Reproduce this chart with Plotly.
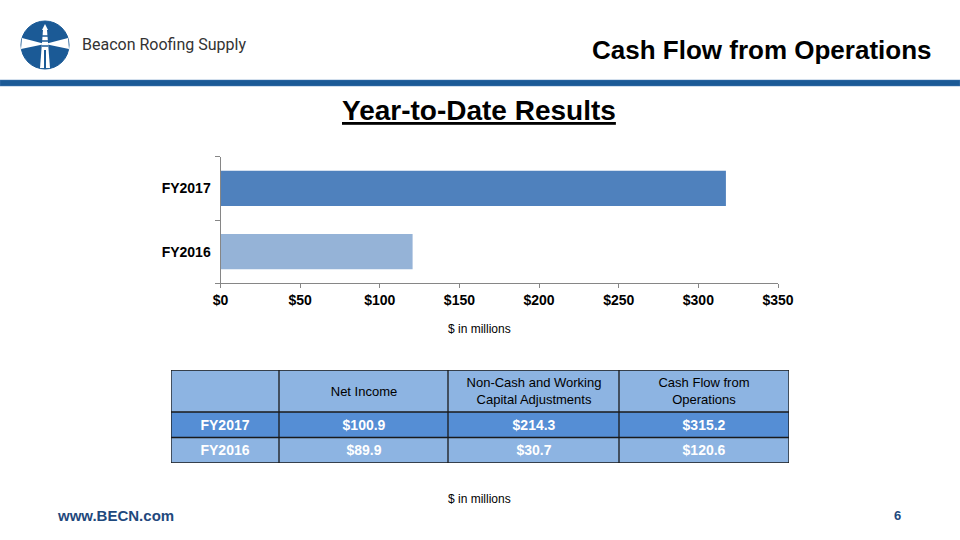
import plotly.graph_objects as go

# ---- data ----
years = ["FY2016", "FY2017"]
cfo_values = [120.6, 317.3]          # bar lengths as drawn in the chart
bar_colors = ["#95B3D7", "#4F81BD"]
x_ticks = [0, 50, 100, 150, 200, 250, 300, 350]
x_tick_labels = ["$0", "$50", "$100", "$150", "$200", "$250", "$300", "$350"]

table_columns = ["", "Net Income", "Non-Cash and Working<br>Capital Adjustments", "Cash Flow from<br>Operations"]
table_rows = ["FY2017", "FY2016"]
net_income = ["$100.9", "$89.9"]
noncash_adj = ["$214.3", "$30.7"]
cash_flow_ops = ["$315.2", "$120.6"]

# ---- layout constants (pixels) ----
W, H = 960, 540
def px(x): return x / W
def py(y): return 1 - y / H

col_edges = [0, 108, 277, 448, 618]      # table column boundaries
head_edges = [0, 42]                     # header row
body_edges = [42, 67.5, 93]              # body rows
TBL_X0, TBL_X1, TBL_Y0, TBL_Y1 = 171, 789, 370, 463

fig = go.Figure()
fig.add_trace(go.Bar(
    y=years, x=cfo_values, orientation="h",
    marker=dict(color=bar_colors, line=dict(width=0)),
    hoverinfo="skip", showlegend=False,
))

# table header
fig.add_trace(go.Heatmap(
    x=col_edges, y=head_edges, z=[[0] * 4],
    text=[table_columns], texttemplate="%{text}",
    textfont=dict(family="Liberation Sans, Arial", size=13, color="#000000"),
    colorscale=[[0, "#8DB4E2"], [1, "#8DB4E2"]], zmin=0, zmax=1, showscale=False,
    hoverinfo="skip", xaxis="x2", yaxis="y2",
))
# table body
body_text = [[f"<b>{v}</b>" for v in row] for row in zip(table_rows, net_income, noncash_adj, cash_flow_ops)]
fig.add_trace(go.Heatmap(
    x=col_edges, y=body_edges, z=[[1] * 4, [0] * 4],
    text=body_text, texttemplate="%{text}",
    textfont=dict(family="Liberation Sans, Arial", size=14, color="#FFFFFF"),
    colorscale=[[0, "#8DB4E2"], [1, "#558ED5"]], zmin=0, zmax=1, showscale=False,
    hoverinfo="skip", xaxis="x2", yaxis="y2",
))

shapes = []
# table grid
all_rows = head_edges + body_edges[1:]
for e in col_edges:
    shapes.append(dict(type="line", xref="x2", yref="y2", x0=e, x1=e, y0=all_rows[0], y1=all_rows[-1],
                       line=dict(color="#1A1A1A", width=1.3)))
for e in all_rows:
    shapes.append(dict(type="line", xref="x2", yref="y2", x0=col_edges[0], x1=col_edges[-1], y0=e, y1=e,
                       line=dict(color="#1A1A1A", width=1.3)))

# blue header rule
shapes.append(dict(type="rect", xref="paper", yref="paper", x0=0, x1=1, y0=py(86), y1=py(80),
                   fillcolor="#1B5A96", line=dict(width=0.5, color="#4A7FB5")))
# logo
shapes.append(dict(type="circle", xref="paper", yref="paper", x0=px(21), x1=px(69), y0=py(69), y1=py(21),
                   fillcolor="#1B5A96", line=dict(color="#1B5A96", width=1)))
shapes.append(dict(type="path", xref="paper", yref="paper",
                   path=f"M {px(45)},{py(44)} L {px(22)},{py(38)} L {px(21)},{py(49)} Z",
                   fillcolor="white", line=dict(width=0)))
shapes.append(dict(type="path", xref="paper", yref="paper",
                   path=f"M {px(45)},{py(44)} L {px(68)},{py(38)} L {px(69)},{py(49)} Z",
                   fillcolor="white", line=dict(width=0)))
shapes.append(dict(type="path", xref="paper", yref="paper",
                   path=f"M {px(43)},{py(30)} L {px(47)},{py(30)} L {px(50)},{py(68)} L {px(40)},{py(68)} Z",
                   fillcolor="white", line=dict(width=0)))
shapes.append(dict(type="path", xref="paper", yref="paper",
                   path=f"M {px(45)},{py(24)} L {px(48)},{py(30)} L {px(42)},{py(30)} Z",
                   fillcolor="white", line=dict(width=0)))
for yy in (36, 41, 46):
    shapes.append(dict(type="line", xref="paper", yref="paper", x0=px(42), x1=px(48), y0=py(yy), y1=py(yy),
                       line=dict(color="#1B5A96", width=1.5)))
shapes.append(dict(type="line", xref="paper", yref="paper", x0=px(45), x1=px(45), y0=py(50), y1=py(68),
                   line=dict(color="#1B5A96", width=2)))

annotations = [
    dict(text="Beacon Roofing Supply", x=px(80), y=py(44), xanchor="left", yanchor="middle",
         font=dict(family="Roboto, Noto Sans", size=16, color="#333333")),
    dict(text="<b>Cash Flow from Operations</b>", x=px(934), y=py(50), xanchor="right", yanchor="middle",
         font=dict(family="Liberation Sans, Arial", size=26, color="#000000")),
    dict(text="<b><u>Year-to-Date Results</u></b>", x=px(479), y=py(110), xanchor="center", yanchor="middle",
         font=dict(family="Liberation Sans, Arial", size=28, color="#000000")),
    dict(text="$ in millions", x=px(479), y=py(329), xanchor="center", yanchor="middle",
         font=dict(family="Liberation Sans, Arial", size=12, color="#000000")),
    dict(text="$ in millions", x=px(479), y=py(499), xanchor="center", yanchor="middle",
         font=dict(family="Liberation Sans, Arial", size=12, color="#000000")),
    dict(text="<b>www.BECN.com</b>", x=px(55), y=py(515), xanchor="left", yanchor="middle",
         font=dict(family="Liberation Sans, Arial", size=15, color="#1F497D")),
    dict(text="<b>6</b>", x=px(903), y=py(515), xanchor="right", yanchor="middle",
         font=dict(family="Liberation Sans, Arial", size=13, color="#1F497D")),
]
for a in annotations:
    a.update(xref="paper", yref="paper", showarrow=False)

fig.update_layout(
    width=W, height=H, margin=dict(l=0, r=0, t=0, b=0, autoexpand=False),
    paper_bgcolor="white", plot_bgcolor="rgba(0,0,0,0)",
    bargap=0.44, showlegend=False,
    xaxis=dict(domain=[px(220.5), px(778)], range=[0, 350], tickvals=x_ticks,
               ticktext=[f"<b>{t}</b>" for t in x_tick_labels],
               showgrid=False, zeroline=False, showline=True, linecolor="#868686", linewidth=1,
               ticks="outside", ticklen=4, tickcolor="#868686", automargin=False,
               tickfont=dict(family="Liberation Sans, Arial", size=14, color="#000000"), fixedrange=True),
    yaxis=dict(domain=[py(283.3), py(156.7)], categoryorder="array", categoryarray=years,
               tickvals=years, ticktext=[f"<b>{y}</b>" for y in years],
               showgrid=False, zeroline=False, showline=True, linecolor="#868686", linewidth=1,
               ticks="outside", tickson="boundaries", ticklen=5, tickcolor="#868686", automargin=False,
               tickfont=dict(family="Liberation Sans, Arial", size=14, color="#000000"),
               ticklabelstandoff=6, fixedrange=True),
    xaxis2=dict(domain=[px(TBL_X0), px(TBL_X1)], range=[col_edges[0], col_edges[-1]], anchor="y2",
                visible=False, fixedrange=True),
    yaxis2=dict(domain=[py(TBL_Y1), py(TBL_Y0)], range=[body_edges[-1], head_edges[0]], anchor="x2",
                visible=False, fixedrange=True),
    shapes=shapes, annotations=annotations,
)

fig.write_html("out.html")
